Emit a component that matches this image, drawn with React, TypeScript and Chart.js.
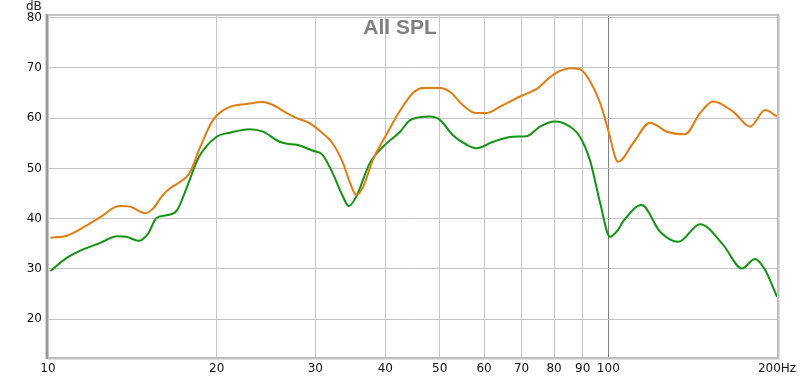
import React, { useEffect, useRef } from "react";
import { Chart, registerables } from "chart.js";
Chart.register(...registerables);

const titleText = "All SPL";
const yUnit = "dB";
const xTicks = [10, 20, 30, 40, 50, 60, 70, 80, 90, 100, 200];
const yTicks = [20, 30, 40, 50, 60, 70, 80];

const orangeHz = [10.1, 10.8, 11.5, 12.4, 13.4, 14.0, 14.9, 15.4, 16.0, 16.5, 17.2, 17.9, 18.7, 19.7, 21.1, 22.6, 24.2, 25.2, 26.7, 27.8, 29.3, 30.9, 32.2, 33.6, 34.6, 35.5, 36.5, 38.0, 40.3, 42.5, 44.8, 46.7, 50.1, 52.2, 55.0, 58.0, 60.7, 64.1, 69.6, 74.5, 79.7, 85.4, 89.0, 92.8, 96.7, 100, 104.1, 110.7, 118.7, 127.2, 137.1, 145.8, 153.8, 167, 179.1, 190.5, 200];
const orangeDb = [36.2, 36.6, 38.1, 40.3, 42.5, 42.4, 41.1, 42.0, 44.6, 46.0, 47.3, 49.1, 54.3, 59.6, 62.2, 62.8, 63.2, 62.6, 61.0, 60.0, 59.0, 57.0, 55.0, 51.1, 47.1, 44.7, 46.3, 51.7, 57.0, 61.5, 65.0, 66.0, 66.0, 65.2, 62.6, 61.0, 61.0, 62.3, 64.3, 65.8, 68.6, 69.9, 69.7, 67.3, 63.0, 57.5, 51.3, 55.0, 59.1, 57.3, 56.8, 61.0, 63.3, 61.3, 58.3, 61.6, 60.3];

const greenHz = [10.1, 10.8, 11.5, 12.4, 13.3, 13.8, 14.5, 15.1, 15.6, 16.3, 17.0, 17.7, 18.6, 20.0, 21.1, 22.9, 24.2, 25.9, 26.7, 27.8, 29.7, 30.9, 32.2, 33.6, 34.4, 35.5, 37.5, 39.6, 42.5, 44.3, 48.0, 50.1, 52.8, 55.9, 58.2, 62.3, 67.6, 71.5, 75.5, 80.3, 85.4, 89.0, 92.8, 96.7, 100.7, 104.1, 106.2, 114.7, 123.7, 133.2, 145.8, 160.3, 173.1, 182.8, 190.5, 200];
const greenDb = [29.6, 32.2, 33.8, 35.2, 36.5, 36.4, 35.6, 37.1, 40.1, 40.7, 41.7, 46.3, 52.3, 56.3, 57.1, 57.8, 57.3, 55.3, 54.9, 54.7, 53.5, 52.7, 49.1, 44.4, 42.5, 44.4, 51.0, 54.3, 57.3, 59.6, 60.3, 59.6, 56.6, 54.7, 54.0, 55.3, 56.3, 56.4, 58.3, 59.3, 58.3, 56.3, 51.5, 43.1, 36.4, 37.8, 39.4, 42.7, 37.4, 35.4, 38.9, 34.8, 30.1, 32.0, 29.8, 24.5];

const toPoints = (xs: number[], ys: number[]) => xs.map((x, i) => ({ x, y: ys[i] }));

const framePlugin = {
  id: "frame",
  afterDraw(chart: any) {
    const { ctx, chartArea: a } = chart;
    ctx.save();
    const l = Math.round(a.left), r = Math.round(a.right), t = Math.round(a.top), b = Math.round(a.bottom);
    ctx.fillStyle = "#c4c4c4";
    ctx.fillRect(l - 2, t - 1, r - l + 4, 2);
    ctx.fillStyle = "#c0c0c0";
    ctx.fillRect(r, t - 1, 2, b - t + 3);
    ctx.fillStyle = "#e2e2e2";
    ctx.fillRect(r + 2, t + 1, 1, b - t + 2);
    ctx.fillStyle = "#c0c0c0";
    ctx.fillRect(l - 2, b, r - l + 4, 2);
    ctx.fillStyle = "#e2e2e2";
    ctx.fillRect(l, b + 2, r - l + 3, 1);
    ctx.fillStyle = "#d4d4d4";
    ctx.fillRect(l - 3, t - 1, 1, b - t + 3);
    ctx.fillStyle = "#9a9a9a";
    ctx.fillRect(l - 2, t - 1, 2, b - t + 3);
    ctx.fillStyle = "#7f7f7f";
    ctx.font = "bold 21px 'Liberation Sans', Arial, sans-serif";
    ctx.textAlign = "center";
    ctx.textBaseline = "alphabetic";
    ctx.fillText(titleText, 400, 34);
    ctx.fillStyle = "#222";
    ctx.font = "12px 'DejaVu Sans', sans-serif";
    ctx.textAlign = "left";
    ctx.fillText(yUnit, 26, 10);
    ctx.restore();
  },
};

export default function App() {
  const ref = useRef<HTMLCanvasElement | null>(null);
  useEffect(() => {
    if (!ref.current) return;
    const chart = new Chart(ref.current, {
      type: "line",
      data: {
        datasets: [
          {
            data: toPoints(orangeHz, orangeDb),
            borderColor: "#e07c12",
            borderWidth: 2,
            pointRadius: 0,
            cubicInterpolationMode: "monotone",
            fill: false,
          },
          {
            data: toPoints(greenHz, greenDb),
            borderColor: "#129412",
            borderWidth: 2,
            pointRadius: 0,
            cubicInterpolationMode: "monotone",
            fill: false,
          },
        ],
      },
      options: {
        responsive: false,
        animation: false,
        layout: { padding: { top: 15, right: 23, left: 0, bottom: 0 } },
        plugins: { legend: { display: false }, tooltip: { enabled: false }, title: { display: false } },
        scales: {
          x: {
            type: "logarithmic",
            min: 10,
            max: 200,
            border: { display: false },
            grid: {
              drawTicks: false,
              color: (c: any) => (c.tick && c.tick.value === 100 ? "#808080" : "#c4c4c4"),
              lineWidth: 1,
            },
            afterBuildTicks: (s: any) => {
              s.ticks = xTicks.map((v) => ({ value: v }));
            },
            afterFit: (s: any) => {
              s.height = 21;
              s.paddingLeft = 0;
              s.paddingRight = 0;
            },
            ticks: {
              autoSkip: false,
              maxRotation: 0,
              padding: 5,
              color: "#111",
              font: { family: "'DejaVu Sans', sans-serif", size: 12 },
              callback: (v: any) => (Number(v) === 200 ? "200Hz" : String(v)),
            },
          },
          y: {
            type: "linear",
            min: 12.5,
            max: 80.5,
            border: { display: false },
            grid: { drawTicks: false, color: "#c4c4c4", lineWidth: 1 },
            afterBuildTicks: (s: any) => {
              s.ticks = yTicks.map((v) => ({ value: v }));
            },
            afterFit: (s: any) => {
              s.width = 48;
              s.paddingTop = 0;
              s.paddingBottom = 0;
            },
            ticks: {
              padding: 6,
              color: "#111",
              font: { family: "'DejaVu Sans', sans-serif", size: 12 },
              callback: (v: any) => String(v),
            },
          },
        },
      },
      plugins: [framePlugin],
    } as any);
    return () => chart.destroy();
  }, []);
  return (
    <div style={{ position: "absolute", left: 0, top: 0, width: 800, height: 378, background: "#fff" }}>
      <canvas ref={ref} width={800} height={378} style={{ width: 800, height: 378, display: "block" }} />
    </div>
  );
}
